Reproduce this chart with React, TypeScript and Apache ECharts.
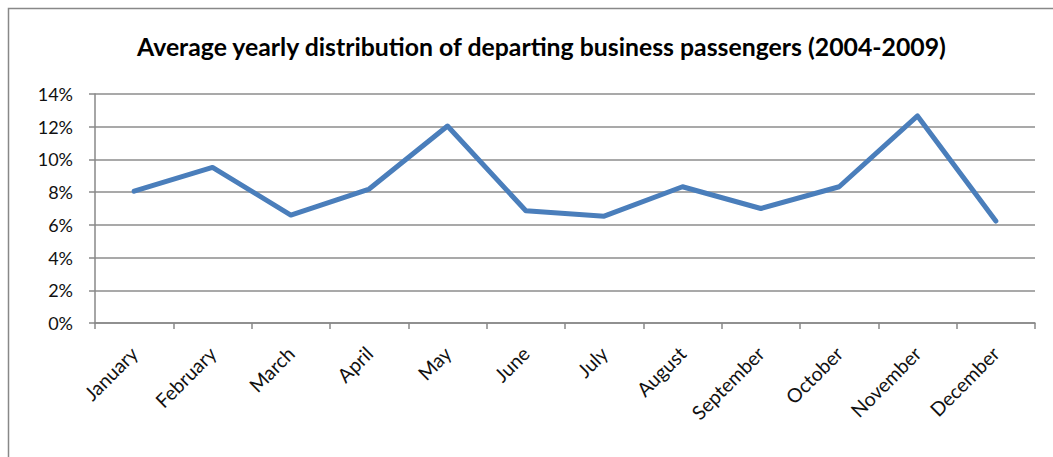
import React, { useEffect, useRef } from "react";
import * as echarts from "echarts";

const title = "Average yearly distribution of departing business passengers (2004-2009)";
const months = [
  "January", "February", "March", "April", "May", "June",
  "July", "August", "September", "October", "November", "December",
];
const shares = [8.06, 9.51, 6.6, 8.19, 12.04, 6.86, 6.53, 8.33, 7.0, 8.33, 12.66, 6.23];
const yMin = 0;
const yMax = 14;
const yStep = 2;

const FONT = "Lato, 'Open Sans', sans-serif";

export default function App() {
  const ref = useRef<HTMLDivElement>(null);
  useEffect(() => {
    if (!ref.current) return;
    const chart = echarts.init(ref.current, undefined, { renderer: "svg" });
    chart.setOption({
      animation: false,
      backgroundColor: "#ffffff",
      title: {
        text: title,
        left: 132,
        top: 29,
        itemGap: 0,
        textStyle: { fontFamily: FONT, fontWeight: "bold", fontSize: 24.8, color: "#000000" },
      },
      graphic: [
        {
          type: "rect",
          shape: { x: 8.5, y: 8.5, width: 1080, height: 480 },
          style: { fill: "none", stroke: "#888888", lineWidth: 1.5 },
          silent: true,
        },
      ],
      grid: { left: 95, top: 94, width: 940, height: 229, containLabel: false },
      xAxis: {
        type: "category",
        data: months,
        boundaryGap: true,
        axisLine: { show: true, lineStyle: { color: "#888888", width: 1.5 } },
        axisTick: { show: true, length: 6, alignWithLabel: false, lineStyle: { color: "#888888", width: 1.5 } },
        axisLabel: {
          rotate: 45,
          interval: 0,
          margin: 27,
          fontFamily: FONT,
          fontSize: 19.5,
          color: "#111111",
        },
        splitLine: { show: false },
      },
      yAxis: {
        type: "value",
        min: yMin,
        max: yMax,
        interval: yStep,
        axisLine: { show: true, lineStyle: { color: "#888888", width: 1.5 } },
        axisTick: { show: true, length: 6, lineStyle: { color: "#888888", width: 1.5 } },
        axisLabel: {
          formatter: (v: number) => `${v}%`,
          margin: 22,
          fontFamily: FONT,
          fontSize: 18,
          color: "#111111",
        },
        splitLine: { show: true, lineStyle: { color: "#8c8c8c", width: 1.5 } },
      },
      series: [
        {
          type: "line",
          data: shares,
          symbol: "none",
          lineStyle: { color: "#4a7ebb", width: 5, cap: "round", join: "round" },
        },
      ],
    });
    return () => chart.dispose();
  }, []);
  return (
    <div
      ref={ref}
      style={{ position: "absolute", left: 0, top: 0, width: 1053, height: 457, overflow: "hidden" }}
    />
  );
}
